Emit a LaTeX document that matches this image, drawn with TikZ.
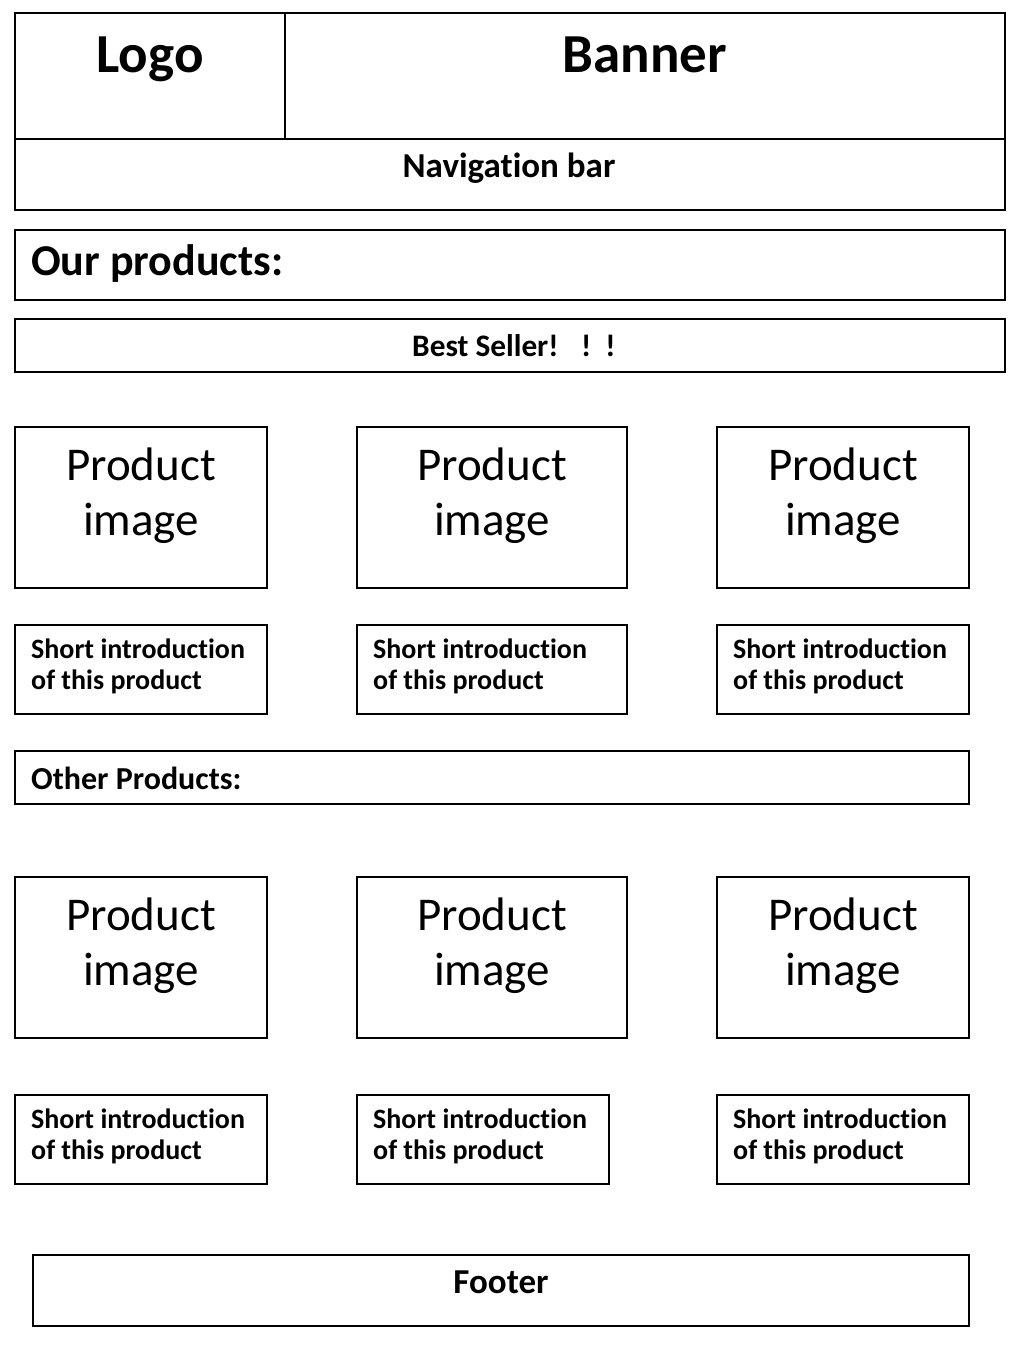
\documentclass[tikz,border=0pt]{standalone}
\usepackage{fontspec}
\setmainfont[Ligatures=NoCommon]{Carlito}
\begin{document}
\begin{tikzpicture}[x=1pt,y=-1pt,
  wbox/.style={draw=black,line width=2pt,inner sep=0pt,outer sep=0pt,rectangle},
  bigtxt/.style={font=\fontsize{55}{60}\selectfont\bfseries,inner sep=0pt},
  midtxt/.style={font=\fontsize{35}{40}\selectfont\bfseries,inner sep=0pt},
  ourtxt/.style={font=\fontsize{44}{48}\selectfont\bfseries,inner sep=0pt},
  smltxt/.style={font=\fontsize{28}{32}\selectfont\bfseries,inner sep=0pt},
  besttxt/.style={font=\fontsize{31.3}{34}\selectfont\bfseries,inner sep=0pt},
  othtxt/.style={font=\fontsize{32}{36}\selectfont\bfseries,inner sep=0pt},
  imgtxt/.style={font=\fontsize{47}{52}\selectfont,inner sep=0pt}]
\newcommand\wbox[5]{\node[wbox,minimum width={#4-#2},minimum height={#5-#3},anchor=north west] (#1) at (#2,#3) {};}
\newcommand\pimg[4]{%
  \wbox{#1}{#2}{#4}{#3}{#4+161}
  \node[imgtxt,anchor=base] (#1a) at ({(#2+#3)/2},#4+53) {Product};
  \node[imgtxt,anchor=base] (#1b) at ({(#2+#3)/2},#4+108) {image};}
\newcommand\pintro[4]{%
  \wbox{#1}{#2}{#4}{#3}{#4+89}
  \node[smltxt,anchor=base west] (#1a) at (#2+16,#4+33) {Short introduction};
  \node[smltxt,anchor=base west] (#1b) at (#2+16,#4+64) {of this product};}
\useasboundingbox (0,0) rectangle (1016,1354);
% header
\wbox{logo}{15}{13}{285}{139}
\wbox{banner}{285}{13}{1005}{139}
\wbox{nav}{15}{139}{1005}{210}
\node[bigtxt,anchor=base] (logot) at (150,72) {Logo};
\node[bigtxt,anchor=base] (bannert) at (645,72) {Banner};
\node[midtxt,anchor=base] (navt) at (509,177) {Navigation bar};
% our products
\wbox{our}{15}{230}{1005}{300}
\node[ourtxt,anchor=base west] (ourt) at (31,275) {Our products:};
\wbox{best}{15}{319}{1005}{372}
\node[besttxt,anchor=base west] (bestt) at (412,356) {Best Seller!\hspace{0.72em}!\hspace{0.45em}!};
% row 1
\pimg{pa}{15}{267}{427}
\pimg{pb}{357}{627}{427}
\pimg{pc}{717}{969}{427}
\pintro{ia}{15}{267}{625}
\pintro{ib}{357}{627}{625}
\pintro{ic}{717}{969}{625}
% other products
\wbox{other}{15}{751}{969}{804}
\node[othtxt,anchor=base west] (othert) at (31,789) {Other Products:};
% row 2
\pimg{pd}{15}{267}{877}
\pimg{pe}{357}{627}{877}
\pimg{pf}{717}{969}{877}
\pintro{id}{15}{267}{1095}
\pintro{ie}{357}{609}{1095}
\pintro{if}{717}{969}{1095}
% footer
\wbox{footer}{33}{1255}{969}{1326}
\node[midtxt,anchor=base] (footert) at (501,1293) {Footer};
\end{tikzpicture}
\end{document}
